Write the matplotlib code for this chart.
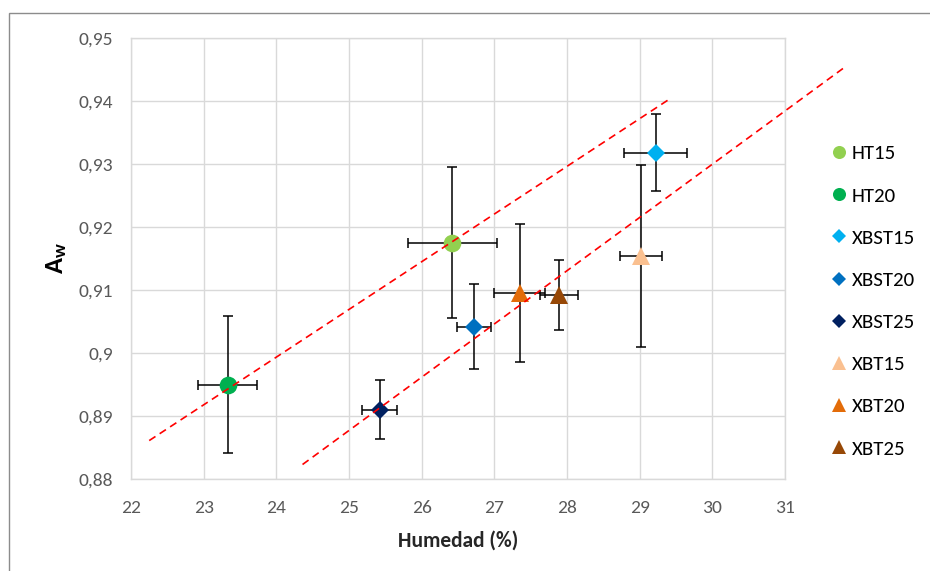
import matplotlib
matplotlib.use("Agg")
import matplotlib.pyplot as plt
from matplotlib.patches import Rectangle
from matplotlib.lines import Line2D
from matplotlib import font_manager

def has_font(name):
    try:
        font_manager.findfont(name, fallback_to_default=False)
        return True
    except Exception:
        return False

base = "Carlito" if has_font("Carlito") else "Lato"
plt.rcParams['font.family'] = [base, 'Lato', 'DejaVu Sans']
plt.rcParams['mathtext.fontset'] = 'custom'
plt.rcParams['mathtext.rm'] = base
plt.rcParams['mathtext.bf'] = base + ':bold'

# ---- data ----
labels = ["HT15", "HT20", "XBST15", "XBST20", "XBST25", "XBT15", "XBT20", "XBT25"]
humedad = [26.42, 23.33, 29.22, 26.72, 25.42, 29.02, 27.35, 27.89]
aw = [0.9175, 0.8950, 0.9318, 0.9042, 0.8910, 0.9154, 0.9095, 0.9092]
aw_err = [0.0120, 0.0108, 0.0061, 0.0068, 0.0047, 0.0145, 0.0109, 0.0055]
hum_err = [0.61, 0.41, 0.43, 0.23, 0.235, 0.29, 0.35, 0.26]
colors = ["#92D050", "#00B050", "#00B0F0", "#0070C0", "#002060", "#FAC090", "#E36C09", "#974806"]
markers = ["o", "o", "D", "D", "D", "^", "^", "^"]

trend_upper_x = [22.25, 29.41]
trend_upper_y = [0.8861, 0.9403]
trend_lower_x = [24.36, 31.85]
trend_lower_y = [0.8823, 0.9456]

xticks = [22, 23, 24, 25, 26, 27, 28, 29, 30, 31]
yticks = [0.88, 0.89, 0.90, 0.91, 0.92, 0.93, 0.94, 0.95]
ytick_labels = ["0,88", "0,89", "0,9", "0,91", "0,92", "0,93", "0,94", "0,95"]

fig = plt.figure(figsize=(9.3, 5.71), dpi=100)
ax = fig.add_axes([0.1409, 0.1611, 0.7032, 0.7724])

# chart border
fig.patches.append(Rectangle((0.0097, -0.2), 1.5, 1.178, transform=fig.transFigure,
                             fill=False, edgecolor="#8C8C8C", linewidth=1.0))

ms = {"o": 12.7, "D": 9.2, "^": 13.0}
ms_leg = {"o": 9.4, "D": 6.8, "^": 9.6}
handles = []
for i, lab in enumerate(labels):
    ax.errorbar(humedad[i], aw[i], xerr=hum_err[i], yerr=aw_err[i], fmt="none",
                ecolor="black", elinewidth=1.1, capsize=3.6, capthick=1.1, zorder=3)
    ax.plot(humedad[i], aw[i], marker=markers[i], color=colors[i], markersize=ms[markers[i]],
            linestyle="none", markeredgewidth=0, zorder=4)
    handles.append(Line2D([], [], marker=markers[i], color=colors[i], linestyle="none",
                          markeredgewidth=0, markersize=ms_leg[markers[i]], label=lab))

ax.plot(trend_upper_x, trend_upper_y, color="#FF0000", linewidth=1.2,
        linestyle=(0, (4.5, 3)), zorder=5, clip_on=False)
ax.plot(trend_lower_x, trend_lower_y, color="#FF0000", linewidth=1.2,
        linestyle=(0, (4.5, 3)), zorder=5, clip_on=False)

ax.set_xlim(22, 31)
ax.set_ylim(0.88, 0.95)
ax.set_xticks(xticks)
ax.set_xticklabels([str(t) for t in xticks])
ax.set_yticks(yticks)
ax.set_yticklabels(ytick_labels)
ax.tick_params(length=0, labelsize=14, labelcolor="#595959")
ax.tick_params(axis="x", pad=15)
ax.tick_params(axis="y", pad=13)
ax.grid(True, color="#D9D9D9", linewidth=1.0, zorder=0)
ax.set_axisbelow(True)
for s in ax.spines.values():
    s.set_color("#D9D9D9")
    s.set_linewidth(1.0)

ax.set_xlabel("Humedad (%)", fontsize=15.5, fontweight="bold", color="#262626", labelpad=11)
ax.set_ylabel(r"$\mathbf{A_w}$", fontsize=19, color="black", labelpad=7)

fig.legend(handles=handles, loc="upper left", bbox_to_anchor=(0.8814, 0.761),
           frameon=False, fontsize=15, labelspacing=1.18, handletextpad=0.1,
           handlelength=1.05, borderaxespad=0)

fig.savefig("out.png", dpi=100)
